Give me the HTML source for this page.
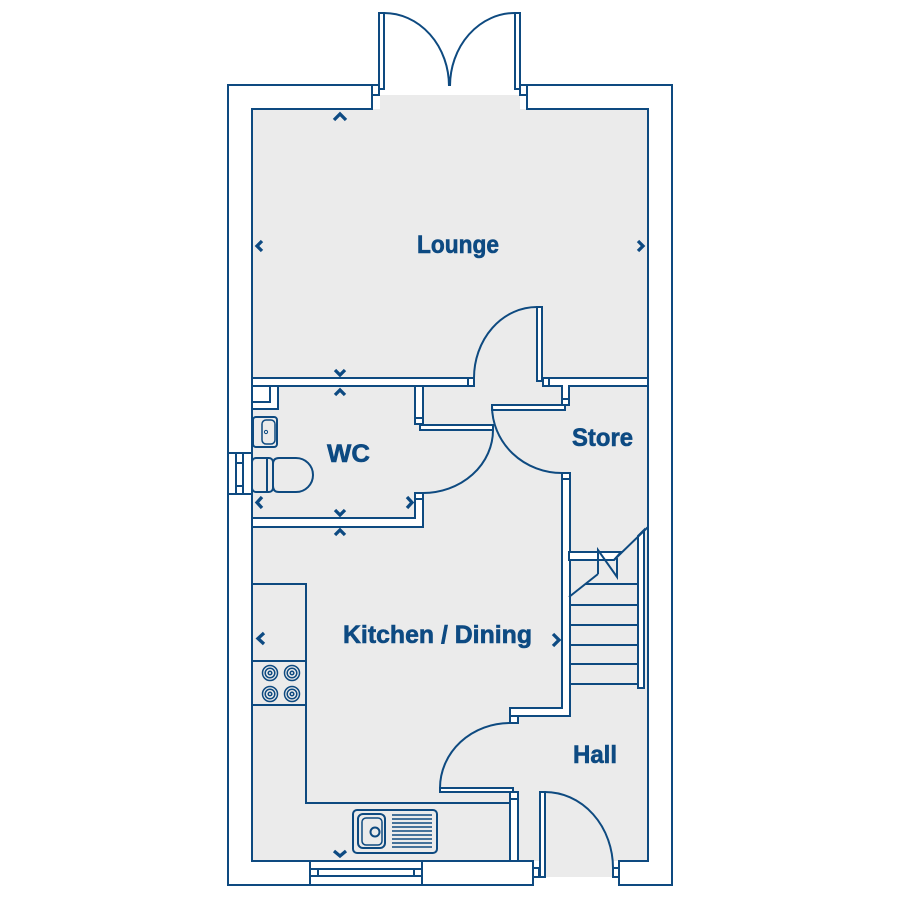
<!DOCTYPE html>
<html>
<head>
<meta charset="utf-8">
<style>
  html,body{margin:0;padding:0;background:#fff;}
  svg{display:block;}
  .t{font-family:"Liberation Sans",Arial,sans-serif;font-weight:bold;font-size:25px;fill:#0d4a82;stroke:#0d4a82;stroke-width:0.6;}
</style>
</head>
<body>
<svg width="900" height="900" viewBox="0 0 900 900" xmlns="http://www.w3.org/2000/svg">
  <rect x="0" y="0" width="900" height="900" fill="#fff"/>

  <!-- floor -->
  <g fill="#ebebeb">
    <rect x="252" y="109" width="396" height="752"/>
    <rect x="380" y="95" width="140" height="15"/>
    <rect x="539" y="860" width="74" height="17"/>
  </g>

  <g stroke="#0e4a80" stroke-width="2" fill="#fff" stroke-linejoin="miter">
    <!-- exterior walls -->
    <path d="M372,85 H228 V885 H533 V861 H252 V109 H372 Z"/>
    <path d="M527,85 H672 V885 H619 V861 H648 V109 H527 Z"/>
    <rect x="372" y="85" width="7" height="10"/>
    <rect x="520" y="85" width="7" height="10"/>
    <rect x="533" y="868" width="6" height="9"/>
    <rect x="613" y="868" width="6" height="9"/>

    <!-- WC window (left wall) -->
    <rect x="228" y="453" width="24" height="41"/>
    <rect x="236" y="453" width="7" height="41"/>
    <path d="M236,463 H243 M236,486 H243" fill="none"/>

    <!-- bottom window -->
    <rect x="310" y="861" width="112" height="24"/>
    <rect x="310" y="869" width="112" height="7"/>
    <path d="M318,869 V876 M414,869 V876" fill="none"/>

    <!-- top french door leaves -->
    <rect x="379" y="13" width="5" height="76"/>
    <rect x="515" y="13" width="5" height="76"/>

    <!-- lounge / WC wall -->
    <rect x="252" y="378" width="216" height="8"/>
    <rect x="468" y="378" width="6" height="8"/>
    <path d="M549,378 H648 V386 H569 V399 H562 V386 H549 Z"/>
    <rect x="543" y="378" width="6" height="8"/>
    <rect x="562" y="399" width="7" height="6"/>

    <!-- lounge door leaf -->
    <rect x="537" y="307" width="5" height="74"/>

    <!-- WC right wall upper -->
    <rect x="415" y="386" width="8" height="32"/>
    <rect x="415" y="418" width="8" height="6"/>
    <!-- WC door leaf -->
    <rect x="420" y="425" width="73" height="5"/>
    <!-- Store door leaf -->
    <rect x="492" y="405" width="73" height="5"/>

    <!-- WC lower walls -->
    <rect x="415" y="493" width="8" height="6"/>
    <path d="M252,518 H415 V499 H423 V527 H252 Z"/>

    <!-- WC cabinet -->
    <rect x="252" y="386" width="26" height="23"/>
    <path d="M252,402 H270 V386" fill="none"/>

    <!-- store / kitchen wall -->
    <rect x="562" y="473" width="8" height="6"/>
    <path d="M562,479 H570 V716 H510 V708 H562 Z"/>
    <rect x="510" y="716" width="8" height="7"/>

    <!-- kitchen door leaf -->
    <rect x="440" y="788" width="73" height="4"/>
    <rect x="510" y="792" width="8" height="7"/>
    <rect x="510" y="799" width="8" height="62"/>

    <!-- hall door leaf -->
    <rect x="540" y="792" width="5" height="85"/>

    <!-- stair landing -->
    <path d="M569,552 H621 L614,560 H569 Z"/>
    <!-- stair stringer -->
    <path d="M638,536 L644,530 V688 H638 Z"/>
  </g>

  <!-- door arcs and lines -->
  <g stroke="#0e4a80" stroke-width="2" fill="none">
    <path d="M384,13 A65,73 0 0 1 449,86"/>
    <path d="M515,13 A65,73 0 0 0 450,86"/>
    <path d="M537,307 A63,71 0 0 0 474,378"/>
    <path d="M492,406 A70,67 0 0 0 562,473"/>
    <path d="M493,430 A70,63 0 0 1 423,493"/>
    <path d="M440,788 A70,65 0 0 1 510,723"/>
    <path d="M545,792 A68,76 0 0 1 613,868"/>

    <!-- stairs -->
    <path d="M648,527 L614,560"/>
    <path d="M569,597 L598,574"/>
    <path d="M598,574 V550 L617,577 V558"/>
    <path d="M585,584 H638"/>
    <path d="M569,605 H638"/>
    <path d="M569,625 H638"/>
    <path d="M569,645 H638"/>
    <path d="M569,664 H638"/>
    <path d="M569,684 H638"/>

    <!-- kitchen counter -->
    <path d="M252,584 H306 V803 H510"/>
    <path d="M252,661 H306 M252,705 H306"/>

    <!-- basin -->
    <rect x="253" y="417" width="24" height="30" rx="3"/>
    <rect x="262" y="420" width="13" height="24" rx="4" stroke-width="1.5"/>
    <circle cx="266" cy="432" r="1.6" stroke-width="1"/>

    <!-- toilet -->
    <rect x="252" y="458" width="21" height="34" rx="4"/>
    <path d="M267,459 V491"/>
    <path d="M279,458 H296 A17,17 0 0 1 296,492 H279 Q273,492 273,486 V464 Q273,458 279,458 Z"/>

    <!-- sink -->
    <rect x="353" y="810" width="84" height="43" rx="4"/>
    <rect x="358" y="814" width="27" height="34" rx="5"/>
    <rect x="362" y="818" width="20" height="27" rx="4" stroke-width="1.5"/>
    <circle cx="375" cy="832" r="4.5"/>
    <path stroke-width="1.6" d="M392,815 H432 M392,819 H432 M392,823 H432 M392,827 H432 M392,831 H432 M392,835 H432 M392,839 H432 M392,843 H432 M392,847 H432"/>
  </g>

  <!-- hob rings -->
  <g stroke="#0e4a80" stroke-width="1.5" fill="none">
    <circle cx="270" cy="673" r="7.5"/><circle cx="270" cy="673" r="4.8"/><circle cx="270" cy="673" r="1.8"/>
    <circle cx="292" cy="673" r="7.5"/><circle cx="292" cy="673" r="4.8"/><circle cx="292" cy="673" r="1.8"/>
    <circle cx="270" cy="694" r="7.5"/><circle cx="270" cy="694" r="4.8"/><circle cx="270" cy="694" r="1.8"/>
    <circle cx="292" cy="694" r="7.5"/><circle cx="292" cy="694" r="4.8"/><circle cx="292" cy="694" r="1.8"/>
  </g>

  <!-- chevrons -->
  <g stroke="#0d4a82" stroke-width="3.3" fill="none" stroke-linecap="butt" stroke-linejoin="miter">
    <polyline points="334,120 340,114 346,120"/>
    <polyline points="262,241 257,246 262,251"/>
    <polyline points="638,241 643,246 638,251"/>
    <polyline points="335,370 340,375 345,370"/>
    <polyline points="335,395 340,390 345,395"/>
    <polyline points="262,497 257,502.5 262,508"/>
    <polyline points="407,497 412,502.5 407,508"/>
    <polyline points="335,510 340,515 345,510"/>
    <polyline points="335,535 340,530 345,535"/>
    <polyline points="264,633 258,638.5 264,644"/>
    <polyline points="553,634 559,640 553,646"/>
    <polyline points="334,851 340,856 346,851"/>
  </g>

  <!-- labels -->
  <text class="t" x="417" y="253" textLength="82" lengthAdjust="spacingAndGlyphs">Lounge</text>
  <text class="t" x="327" y="462" textLength="43" lengthAdjust="spacingAndGlyphs">WC</text>
  <text class="t" x="572" y="446" textLength="61" lengthAdjust="spacingAndGlyphs">Store</text>
  <text class="t" x="343" y="643" textLength="189" lengthAdjust="spacingAndGlyphs">Kitchen / Dining</text>
  <text class="t" x="573" y="763" textLength="44" lengthAdjust="spacingAndGlyphs">Hall</text>
</svg>
</body>
</html>
